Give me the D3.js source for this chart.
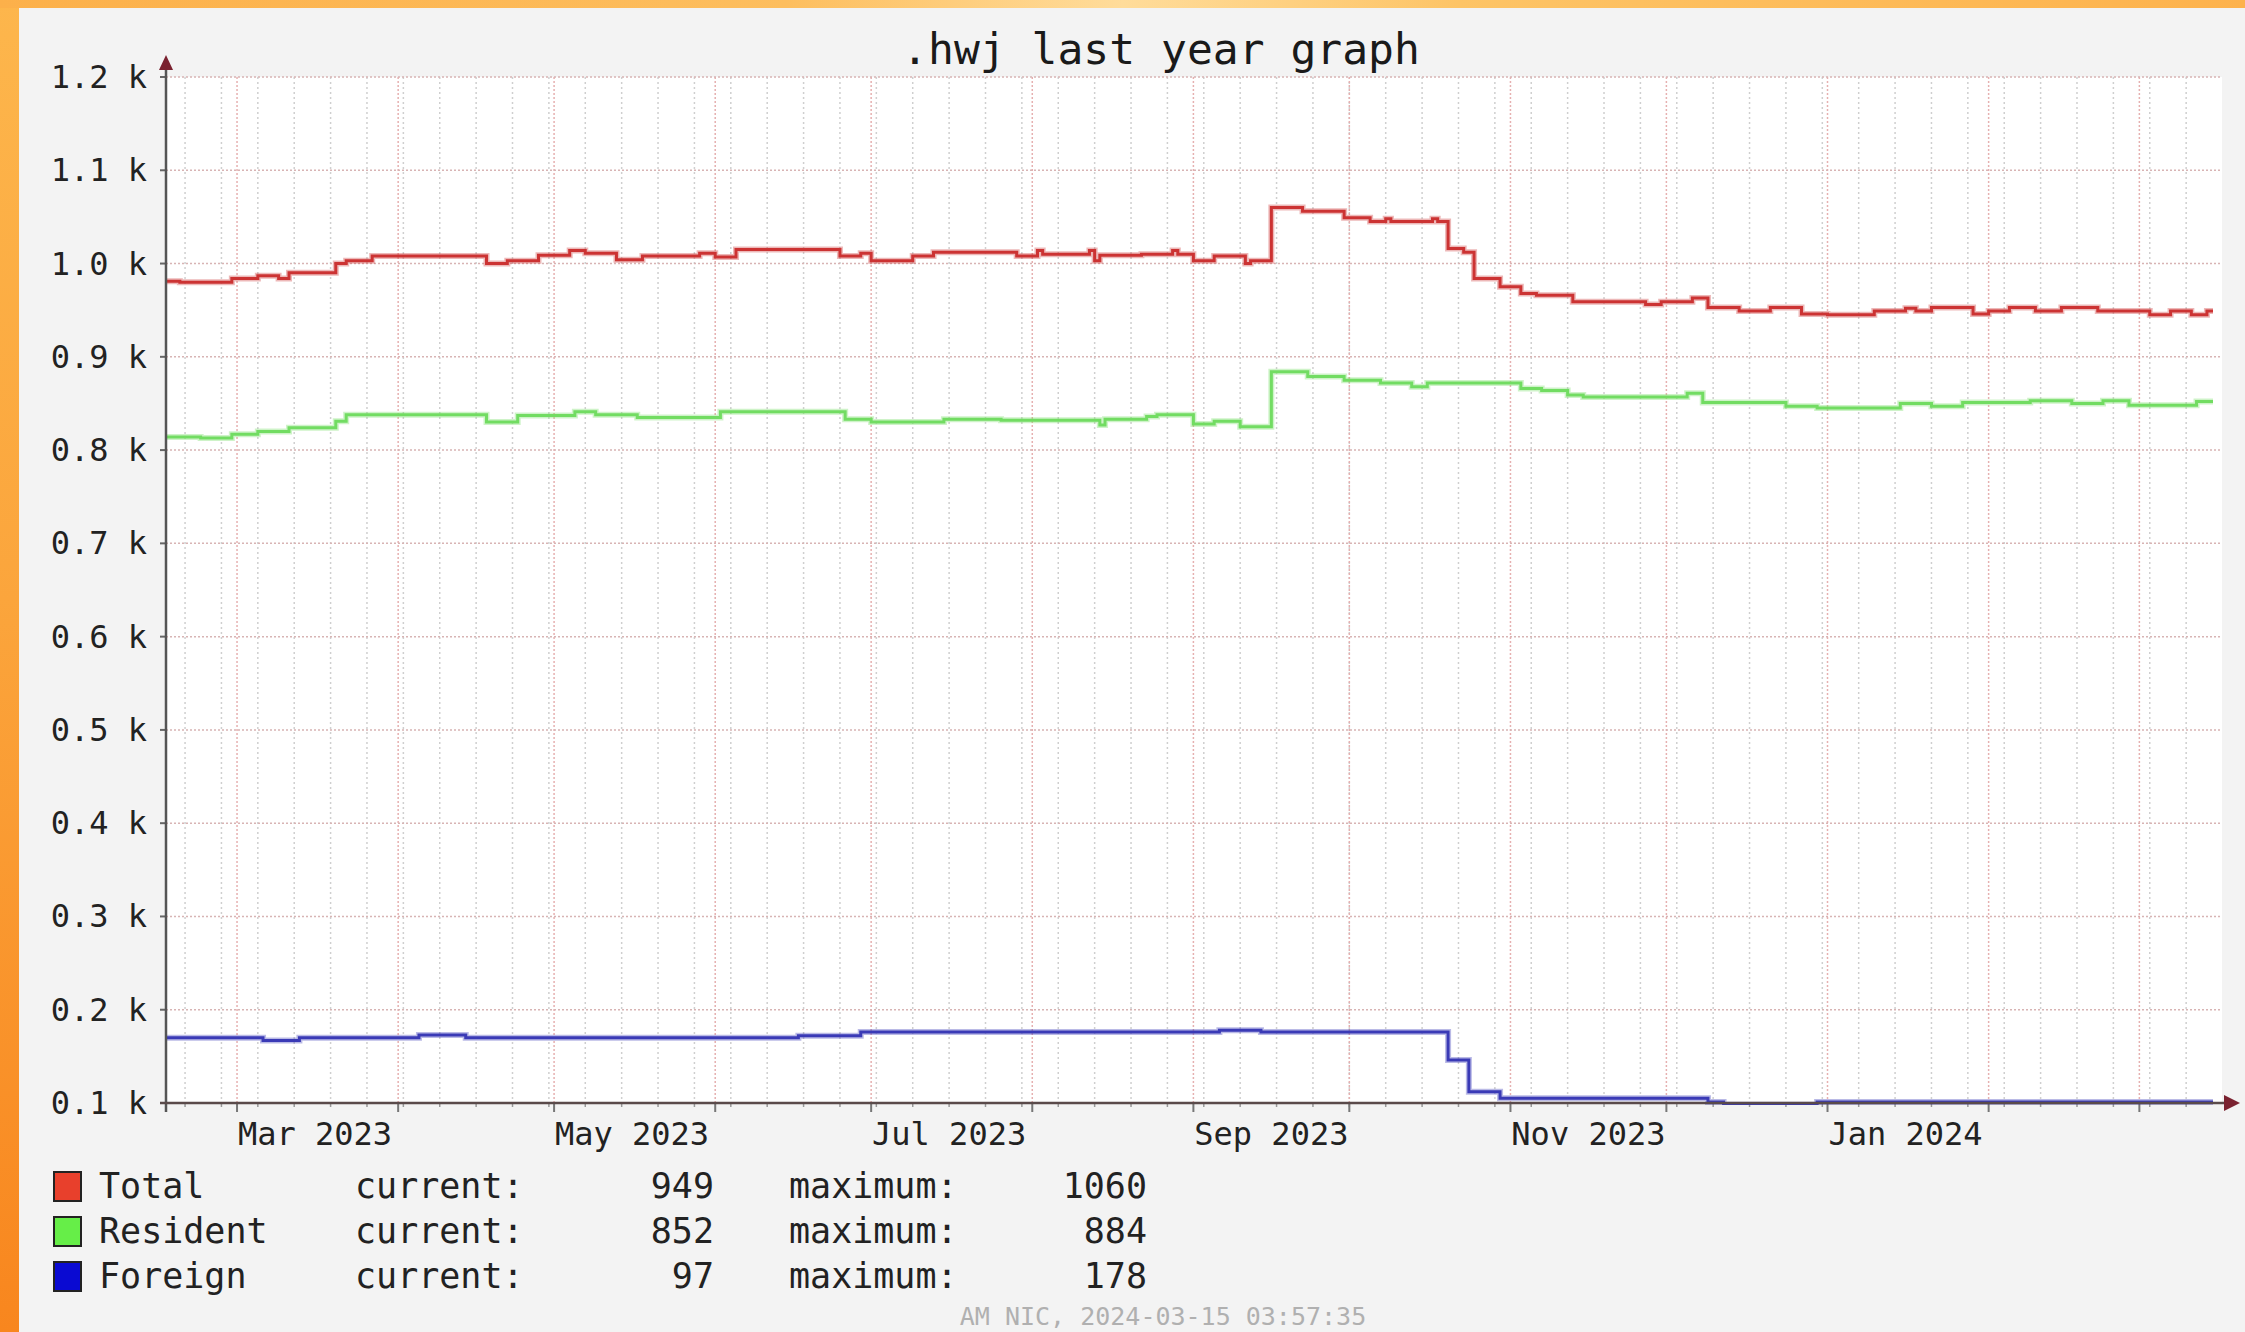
<!DOCTYPE html>
<html><head><meta charset="utf-8">
<script src="https://cdn.jsdelivr.net/npm/d3@7"></script>
<style>
html,body{margin:0;padding:0;width:2245px;height:1332px;overflow:hidden;background:#f3f3f3;}
svg{display:block;}
</style></head><body>
<svg id="chart" width="2245" height="1332"></svg>
<script>
// ---------- data ----------
const chartTitle = ".hwj last year graph";
const footerText = "AM NIC, 2024-03-15 03:57:35";
const timeStart = "2023-02-15T08:00:00Z";
const timeEnd = "2024-03-15T04:00:00Z";

const yTickValues = [100, 200, 300, 400, 500, 600, 700, 800, 900, 1000, 1100, 1200];
const yTickLabels = ["0.1 k", "0.2 k", "0.3 k", "0.4 k", "0.5 k", "0.6 k", "0.7 k", "0.8 k", "0.9 k", "1.0 k", "1.1 k", "1.2 k"];

const xLabelMonths = ["2023-03-01", "2023-05-01", "2023-07-01", "2023-09-01", "2023-11-01", "2024-01-01"];
const xLabelTexts = ["Mar 2023", "May 2023", "Jul 2023", "Sep 2023", "Nov 2023", "Jan 2024"];

const totalSeries = [
  ["2023-02-15",981],["2023-02-18",980],["2023-02-28",984],["2023-03-05",987],["2023-03-09",984],
  ["2023-03-11",990],["2023-03-20",1000],["2023-03-22",1003],["2023-03-27",1008],["2023-04-18",1000],
  ["2023-04-22",1003],["2023-04-28",1009],["2023-05-04",1014],["2023-05-07",1011],["2023-05-13",1004],
  ["2023-05-18",1008],["2023-05-29",1011],["2023-06-01",1007],["2023-06-05",1015],["2023-06-25",1008],
  ["2023-06-29",1011],["2023-07-01",1003],["2023-07-09",1008],["2023-07-13",1012],["2023-07-29",1008],
  ["2023-08-02",1014],["2023-08-03",1010],["2023-08-12",1014],["2023-08-13",1003],["2023-08-14",1009],
  ["2023-08-22",1010],["2023-08-28",1014],["2023-08-29",1010],["2023-09-01",1003],["2023-09-05",1008],
  ["2023-09-11",1000],["2023-09-12",1003],["2023-09-16",1060],["2023-09-22",1056],["2023-09-30",1049],
  ["2023-10-05",1045],["2023-10-08",1048],["2023-10-09",1045],["2023-10-17",1048],["2023-10-18",1045],
  ["2023-10-20",1016],["2023-10-23",1012],["2023-10-25",984],["2023-10-30",975],["2023-11-03",968],
  ["2023-11-06",966],["2023-11-13",959],["2023-11-27",956],["2023-11-30",959],["2023-12-06",963],
  ["2023-12-09",953],["2023-12-15",949],["2023-12-21",953],["2023-12-27",946],["2024-01-01",945],
  ["2024-01-10",949],["2024-01-16",952],["2024-01-18",949],["2024-01-21",953],["2024-01-29",946],
  ["2024-02-01",949],["2024-02-05",953],["2024-02-10",949],["2024-02-15",953],["2024-02-22",949],
  ["2024-03-03",945],["2024-03-07",949],["2024-03-11",945],["2024-03-14",949],["2024-03-15T04:00:00Z",949]
];
const residentSeries = [
  ["2023-02-15",814],["2023-02-22",813],["2023-02-28",817],["2023-03-05",820],["2023-03-11",824],
  ["2023-03-20",831],["2023-03-22",838],["2023-04-18",830],["2023-04-24",837],["2023-05-05",841],
  ["2023-05-09",838],["2023-05-17",835],["2023-06-02",841],["2023-06-26",833],["2023-07-01",830],
  ["2023-07-15",833],["2023-07-26",832],["2023-08-14",827],["2023-08-15",833],["2023-08-23",836],
  ["2023-08-25",838],["2023-09-01",828],["2023-09-05",831],["2023-09-10",825],["2023-09-16",884],
  ["2023-09-23",879],["2023-09-30",875],["2023-10-07",872],["2023-10-13",868],["2023-10-16",872],
  ["2023-11-03",866],["2023-11-07",864],["2023-11-12",859],["2023-11-15",857],["2023-12-05",861],
  ["2023-12-08",851],["2023-12-24",847],["2023-12-30",845],["2024-01-15",850],["2024-01-21",847],
  ["2024-01-27",851],["2024-02-09",853],["2024-02-17",850],["2024-02-23",853],["2024-02-28",848],
  ["2024-03-12",852],["2024-03-15T04:00:00Z",852]
];
const foreignSeries = [
  ["2023-02-15",170],["2023-03-06",167],["2023-03-13",170],["2023-04-05",173],["2023-04-14",170],
  ["2023-06-17",172],["2023-06-29",176],["2023-09-06",178],["2023-09-14",176],["2023-10-20",146],
  ["2023-10-24",112],["2023-10-30",105],["2023-12-09",101],["2023-12-12",98],["2023-12-30",101],
  ["2024-03-15T04:00:00Z",101]
];

const legendNames = ["Total", "Resident", "Foreign"];
const legendCurrent = ["949", "852", "97"];
const legendMaximum = ["1060", "884", "178"];
const seriesColors = ["#cc3333", "#72dc62", "#3a3ab6"];
const legendBoxColors = ["#e8402c", "#66ee48", "#0a0ad2"];

// ---------- drawing ----------
const svg = d3.select("#chart");
const W = 2245, H = 1332;
const plot = {left: 166, right: 2213, top: 77, bottom: 1103, gridRight: 2222};
const mono = "'DejaVu Sans Mono', 'Liberation Mono', monospace";

const defs = svg.append("defs");
const gv = defs.append("linearGradient").attr("id","gv").attr("x1",0).attr("y1",0).attr("x2",0).attr("y2",1);
gv.append("stop").attr("offset","0%").attr("stop-color","#fdb64c");
gv.append("stop").attr("offset","45%").attr("stop-color","#fba53c");
gv.append("stop").attr("offset","100%").attr("stop-color","#f8861e");
const gh = defs.append("linearGradient").attr("id","gh").attr("x1",0).attr("y1",0).attr("x2",1).attr("y2",0);
gh.append("stop").attr("offset","0%").attr("stop-color","#fcb04a");
gh.append("stop").attr("offset","35%").attr("stop-color","#fdbe5e");
gh.append("stop").attr("offset","50%").attr("stop-color","#ffdc9a");
gh.append("stop").attr("offset","65%").attr("stop-color","#fdc466");
gh.append("stop").attr("offset","100%").attr("stop-color","#fdb24c");
defs.append("clipPath").attr("id","plotclip").append("rect")
  .attr("x", plot.left).attr("y", plot.top).attr("width", plot.gridRight - plot.left).attr("height", plot.bottom - plot.top + 2);

// frame
svg.append("rect").attr("x",0).attr("y",0).attr("width",W).attr("height",H).attr("fill","url(#gv)");
svg.append("rect").attr("x",0).attr("y",0).attr("width",W).attr("height",8).attr("fill","url(#gh)");
svg.append("rect").attr("x",19).attr("y",8).attr("width",W-19).attr("height",H-8).attr("fill","#f3f3f3");

const x = d3.scaleUtc().domain([new Date(timeStart), new Date(timeEnd)]).range([plot.left, plot.right]);
const y = d3.scaleLinear().domain([100, 1200]).range([plot.bottom, plot.top]);
const parse = s => new Date(s.length === 10 ? s + "T00:00:00Z" : s);

// plot background
svg.append("rect").attr("x", plot.left).attr("y", plot.top)
  .attr("width", plot.gridRight - plot.left).attr("height", plot.bottom - plot.top).attr("fill", "#ffffff");

const d0 = x.domain()[0], d1 = x.invert(plot.gridRight);
// minor vertical grid (weekly)
const weeks = d3.utcSunday.range(d0, d1);
svg.append("g").selectAll("line").data(weeks).join("line")
  .attr("x1", d => x(d)).attr("x2", d => x(d)).attr("y1", plot.top).attr("y2", plot.bottom)
  .attr("stroke", "#cfcfcf").attr("stroke-width", 1.5).attr("stroke-dasharray", "2,3");
// major vertical grid (monthly)
const months = d3.utcMonth.range(d3.utcMonth.ceil(d0), d1);
svg.append("g").selectAll("line").data(months).join("line")
  .attr("x1", d => x(d)).attr("x2", d => x(d)).attr("y1", plot.top).attr("y2", plot.bottom)
  .attr("stroke", "#e6b0b0").attr("stroke-width", 1.5).attr("stroke-dasharray", "2,2");
// horizontal grid
svg.append("g").selectAll("line").data(yTickValues).join("line")
  .attr("x1", plot.left).attr("x2", plot.gridRight).attr("y1", d => y(d)).attr("y2", d => y(d))
  .attr("stroke", "#d8b4b4").attr("stroke-width", 1.5).attr("stroke-dasharray", "2,2");

// y tick labels and marks
svg.append("g").selectAll("line").data(yTickValues).join("line")
  .attr("x1", plot.left - 6).attr("x2", plot.left).attr("y1", d => y(d)).attr("y2", d => y(d))
  .attr("stroke", "#666").attr("stroke-width", 2);
svg.append("g").selectAll("text").data(yTickValues).join("text")
  .attr("x", 147).attr("y", d => y(d) + 11).attr("text-anchor", "end")
  .attr("font-family", mono).attr("font-size", 32).attr("fill", "#222")
  .text((d, i) => yTickLabels[i]);

// x ticks
svg.append("g").selectAll("line").data(weeks).join("line")
  .attr("x1", d => x(d)).attr("x2", d => x(d)).attr("y1", plot.bottom).attr("y2", plot.bottom + 4)
  .attr("stroke", "#999").attr("stroke-width", 1.5);
svg.append("g").selectAll("line").data(months).join("line")
  .attr("x1", d => x(d)).attr("x2", d => x(d)).attr("y1", plot.bottom).attr("y2", plot.bottom + 9)
  .attr("stroke", "#777").attr("stroke-width", 2);
svg.append("g").selectAll("text").data(xLabelMonths).join("text")
  .attr("x", d => x(d3.utcDay.offset(parse(d), 15))).attr("y", 1145).attr("text-anchor", "middle")
  .attr("font-family", mono).attr("font-size", 32).attr("fill", "#222")
  .text((d, i) => xLabelTexts[i]);

// series lines
const line = d3.line().x(d => x(parse(d[0]))).y(d => y(d[1])).curve(d3.curveStepAfter);
const lines = svg.append("g").attr("clip-path", "url(#plotclip)");
[totalSeries, residentSeries, foreignSeries].forEach((s, i) => {
  lines.append("path").datum(s).attr("d", line).attr("fill", "none")
    .attr("stroke", seriesColors[i]).attr("stroke-opacity", 0.35).attr("stroke-width", 6);
  lines.append("path").datum(s).attr("d", line).attr("fill", "none")
    .attr("stroke", seriesColors[i]).attr("stroke-width", 3);
});

// axes
svg.append("line").attr("x1", plot.left).attr("x2", plot.left).attr("y1", 66).attr("y2", plot.bottom + 9)
  .attr("stroke", "#555").attr("stroke-width", 2.5);
svg.append("line").attr("x1", plot.left - 6).attr("x2", 2226).attr("y1", plot.bottom).attr("y2", plot.bottom)
  .attr("stroke", "#5a4a4a").attr("stroke-width", 2.5);
svg.append("path").attr("d", `M${plot.left},55 L${plot.left - 7},70 L${plot.left + 7},70 Z`).attr("fill", "#7a2230");
svg.append("path").attr("d", `M2240,${plot.bottom} L2224,${plot.bottom - 8} L2224,${plot.bottom + 8} Z`).attr("fill", "#7a2230");

// title
svg.append("text").attr("x", 1161).attr("y", 64).attr("text-anchor", "middle")
  .attr("font-family", mono).attr("font-size", 43).attr("fill", "#1a1a1a").text(chartTitle);

// legend
const lg = svg.append("g");
legendNames.forEach((n, i) => {
  const by = 1198 + i * 45;
  lg.append("rect").attr("x", 54).attr("y", by - 26).attr("width", 27).attr("height", 29)
    .attr("fill", legendBoxColors[i]).attr("stroke", "#222").attr("stroke-width", 2);
  lg.append("text").attr("x", 99).attr("y", by).attr("font-family", mono).attr("font-size", 35).attr("fill", "#222").text(n);
  lg.append("text").attr("x", 355).attr("y", by).attr("font-family", mono).attr("font-size", 35).attr("fill", "#222").text("current:");
  lg.append("text").attr("x", 714).attr("y", by).attr("text-anchor", "end").attr("font-family", mono).attr("font-size", 35).attr("fill", "#222").text(legendCurrent[i]);
  lg.append("text").attr("x", 789).attr("y", by).attr("font-family", mono).attr("font-size", 35).attr("fill", "#222").text("maximum:");
  lg.append("text").attr("x", 1147).attr("y", by).attr("text-anchor", "end").attr("font-family", mono).attr("font-size", 35).attr("fill", "#222").text(legendMaximum[i]);
});

// footer
svg.append("text").attr("x", 1163).attr("y", 1325).attr("text-anchor", "middle")
  .attr("font-family", mono).attr("font-size", 25).attr("fill", "#b0b0b0").text(footerText);
</script>
</body></html>
